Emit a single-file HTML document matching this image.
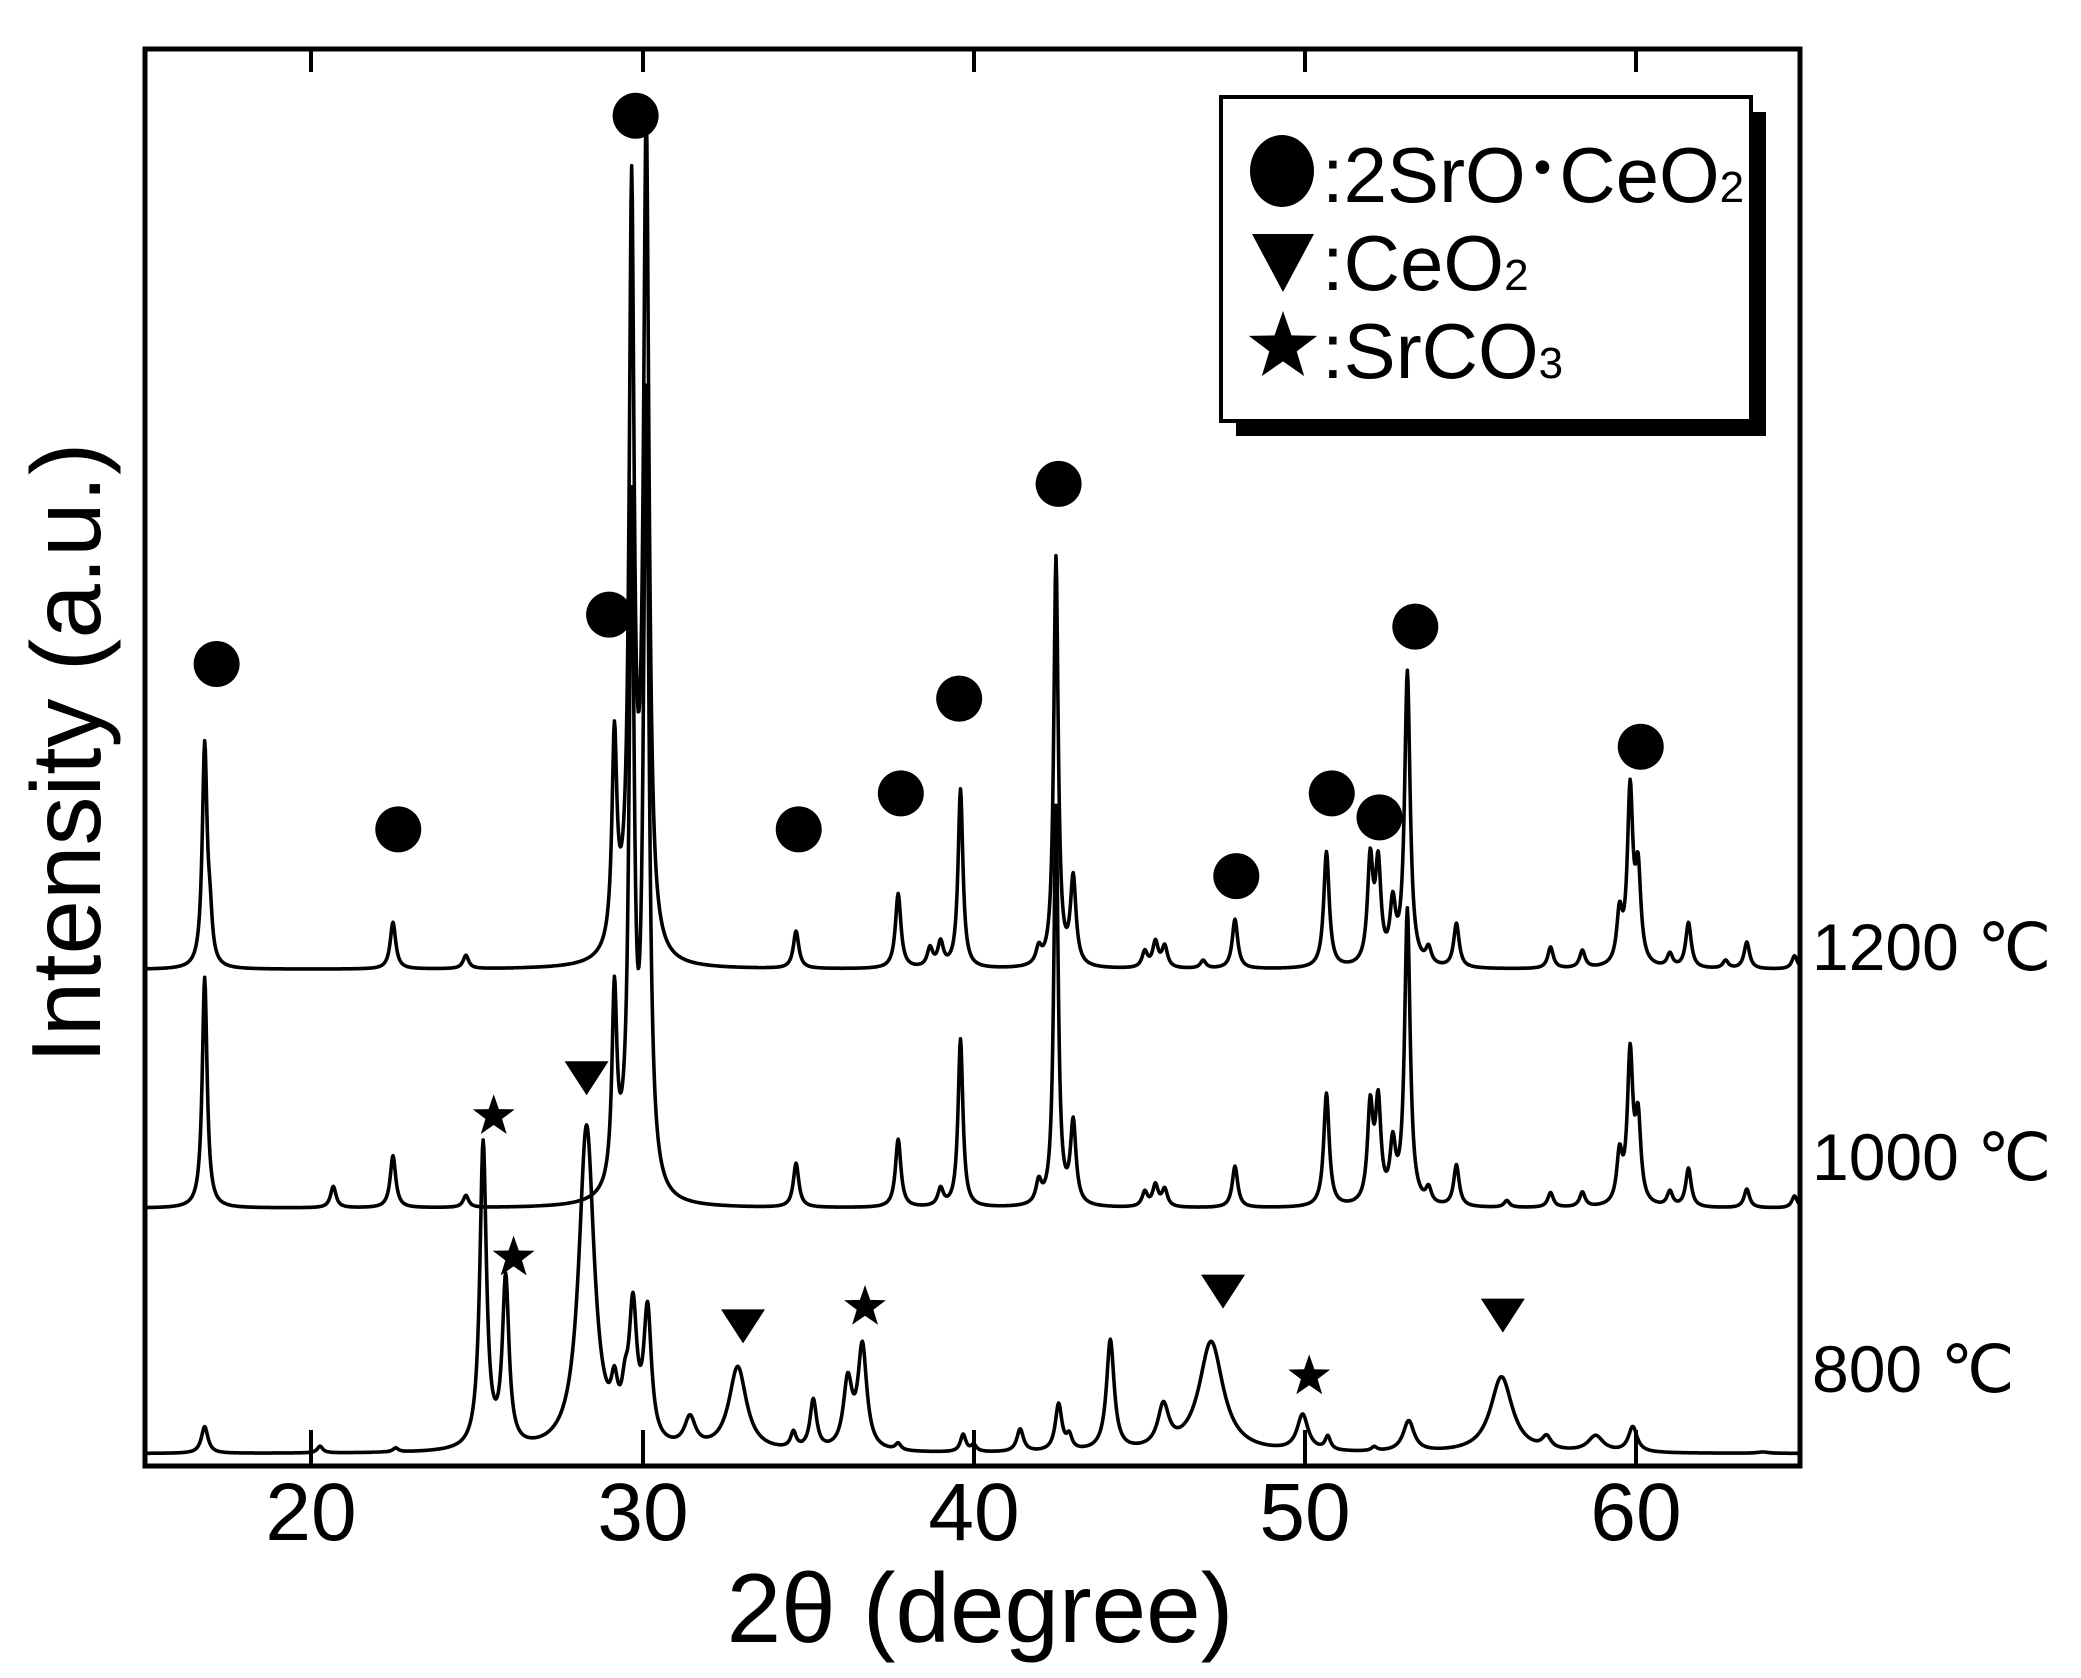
<!DOCTYPE html>
<html><head><meta charset="utf-8"><style>
html,body{margin:0;padding:0;background:#fff;}
svg{display:block;}
text{font-family:"Liberation Sans","DejaVu Sans",sans-serif;fill:#000;}
</style></head><body>
<svg id="s" width="2081" height="1678" viewBox="0 0 2081 1678" xmlns="http://www.w3.org/2000/svg">
<rect width="2081" height="1678" fill="#fff"/>
<g id="g" transform="translate(1.8,-7) scale(1.326,1.334)" fill="none" stroke="#000"></g>
<rect x="145" y="49" width="1655" height="1417" fill="none" stroke="#000" stroke-width="5"/>
<g stroke="#000" stroke-width="4">
<line x1="311" y1="49" x2="311" y2="72"/><line x1="643" y1="49" x2="643" y2="72"/><line x1="974" y1="49" x2="974" y2="72"/><line x1="1305" y1="49" x2="1305" y2="72"/><line x1="1636" y1="49" x2="1636" y2="72"/>
<line x1="311" y1="1466" x2="311" y2="1430"/><line x1="643" y1="1466" x2="643" y2="1430"/><line x1="974" y1="1466" x2="974" y2="1430"/><line x1="1305" y1="1466" x2="1305" y2="1430"/><line x1="1636" y1="1466" x2="1636" y2="1430"/>
</g>
<g font-size="82" text-anchor="middle">
<text x="311" y="1540">20</text><text x="643" y="1540">30</text><text x="974" y="1540">40</text><text x="1305" y="1540">50</text><text x="1636" y="1540">60</text>
</g>
<text x="980" y="1642" font-size="98" text-anchor="middle">2θ (degree)</text>
<text transform="translate(100,753) rotate(-90)" font-size="98" text-anchor="middle">Intensity (a.u.)</text>
<g font-size="66">
<text x="1812" y="970">1200 ℃</text><text x="1812" y="1180">1000 ℃</text><text x="1812" y="1392">800 ℃</text>
</g>
<!-- legend -->
<rect x="1236" y="112" width="530" height="324" fill="#000"/>
<rect x="1221" y="97" width="530" height="324" fill="#fff" stroke="#000" stroke-width="4"/>
<ellipse cx="1282" cy="171" rx="32" ry="36" fill="#000"/>
<polygon points="1252,234 1314,234 1283,292" fill="#000"/>
<polygon id="lstar" fill="#000"/>
<g font-size="78">
<text x="1322" y="202">:2SrO<tspan font-size="50" dx="8" dy="-18">•</tspan><tspan dx="8" dy="18">CeO</tspan><tspan font-size="44">2</tspan></text>
<text x="1322" y="290">:CeO<tspan font-size="44">2</tspan></text>
<text x="1322" y="378">:SrCO<tspan font-size="44">3</tspan></text>
</g>
<g id="m" fill="#000"></g>
</svg>
<script>
function lor(base,pk,slope){var d="";for(var x=108;x<=1356;x+=0.5){var y=base+(slope||0)*(x-108);for(var i=0;i<pk.length;i++){var p=pk[i];var t=(x-p[0])/p[2];y-=p[1]/(1+t*t);}d+=(x==108?"M":"L")+x.toFixed(1)+","+Math.min(y,1104).toFixed(1);}return d;}
function P(base,arr){return arr.map(function(a){return [a[0],base-a[1],a[2]||2.5];});}
var b1=732,b2=911,b3=1095;
var s1=P(b1,[[153,566,2.2],[157,705,2],[295,697],[350,722],[462,580,2.2],[475,180,2.2],[486,115,2.5],[470,712,10],[599,704],[676,676],[700,718],[708,714],[723,598,2.2],[782,720],[795,425,2],[808,667],[862,720],[870,713],[877,716],[906,726],[930,695],[999,645],[1032,655],[1038,660],[1049,690],[1060,512,2.5],[1076,720],[1097,699],[1168,716],[1192,719],[1220,695],[1228,603],[1234,665],[1258,722],[1272,698],[1300,726],[1316,712],[1352,722]]);
var s2=P(b2,[[153,738,2.2],[250,895],[295,872],[350,902],[462,770,2.2],[475,420,2.2],[486,320,2.5],[470,890,10],[599,878],[676,860],[708,898],[723,785,2.2],[782,895],[795,612,2],[808,850],[862,900],[870,895],[877,898],[930,880],[999,826],[1032,840],[1038,838],[1049,870],[1060,690,2.5],[1076,900],[1097,880],[1135,906],[1168,900],[1192,900],[1220,875],[1228,800],[1234,850],[1258,900],[1272,882],[1316,897],[1352,902]]);
var s3=P(b3,[[153,1075,3],[240,1090],[297,1092],[363,866,3],[380,970,3],[441,852,7],[462,1065,3],[470,1070,3],[476,1000,3.5],[487,998,3.5],[519,1073,5],[555,1032,8],[597,1083],[612,1058,3],[638,1045,4],[649,1018,4],[676,1090],[725,1082],[733,1090],[768,1078,3],[797,1060,3],[805,1085],[836,1012,3.5],[876,1064,5],[912,1012,11],[981,1068,5],[1000,1085],[1035,1092],[1061,1072,5],[1131,1038,10],[1165,1086,4],[1202,1083,7],[1230,1076,4],[1328,1094,5]]);
var g=document.getElementById("g");
[[b1,s1],[b2,s2],[b3,s3]].forEach(function(a){var p=document.createElementNS("http://www.w3.org/2000/svg","path");p.setAttribute("d",lor(a[0],a[1]));p.setAttribute("stroke-width","2.7");p.setAttribute("stroke-linejoin","round");g.appendChild(p);});
function X(x){return 1.8+1.326*x;}function Y(y){return -7+1.334*y;}
var m=document.getElementById("m"),h="";
[[162,503],[299,627],[478,92],[458,466],[601,627],[678,600],[722,529],[797,368],[931,662],[1003,600],[1039,618],[1066,475],[1236,565]].forEach(function(c){h+='<circle cx="'+X(c[0])+'" cy="'+Y(c[1])+'" r="23"/>';});
[[441,812],[559,998],[921,972],[1132,990]].forEach(function(c){var x=X(c[0]),y=Y(c[1]);h+='<polygon points="'+(x-22)+','+(y-15)+' '+(x+22)+','+(y-15)+' '+x+','+(y+19)+'"/>';});
function star(cx,cy,R){var r=R*0.4,pts=[];for(var i=0;i<10;i++){var a=-Math.PI/2+i*Math.PI/5,rr=i%2?r:R;pts.push((cx+rr*Math.cos(a)).toFixed(1)+","+(cy+rr*Math.sin(a)).toFixed(1));}return pts.join(" ");}
[[371,842],[386,948],[651,985],[986,1037]].forEach(function(c){h+='<polygon points="'+star(X(c[0]),Y(c[1]),22)+'"/>';});
m.innerHTML=h;
document.getElementById("lstar").setAttribute("points",star(1283,347,36));
</script>
</body></html>
